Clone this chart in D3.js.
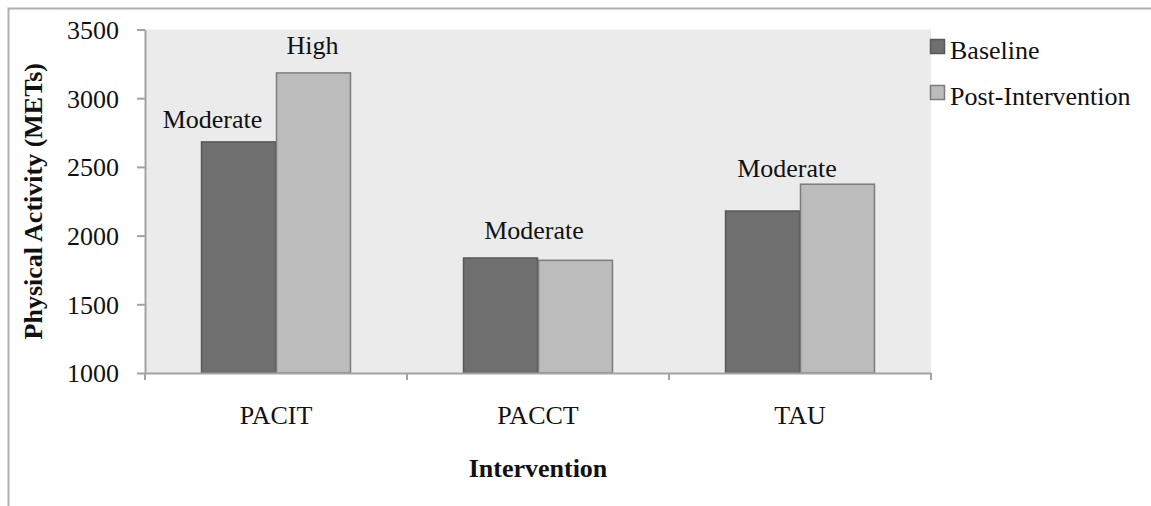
<!DOCTYPE html>
<html>
<head>
<meta charset="utf-8">
<script src="https://cdn.jsdelivr.net/npm/d3@7"></script>
<style>
  html, body { margin: 0; padding: 0; background: #fff; }
  svg { display: block; }
  text { font-family: "Liberation Serif", "Times New Roman", serif; fill: #111; }
</style>
</head>
<body>
<svg id="chart" width="1151" height="506"></svg>
<script>
// ---- data ----
const categories = ["PACIT", "PACCT", "TAU"];
const seriesNames = ["Baseline", "Post-Intervention"];
const baselineValues = [2682, 1837, 2179];
const postValues = [3184, 1820, 2374];
const yTickValues = [1000, 1500, 2000, 2500, 3000, 3500];
const annotationLabels = ["Moderate", "High", "Moderate", "Moderate"];
const annotationCategories = ["PACIT", "PACIT", "PACCT", "TAU"];
const annotationSeries = ["Baseline", "Post-Intervention", null, null];
const xTitle = "Intervention";
const yTitle = "Physical Activity (METs)";

// ---- layout / style ----
const plot = { left: 145, right: 931, top: 29.5, bottom: 373 };
const annotationOffsets = [[-26, -14], [-1, -19], [-4, -19], [-13, -7]];
const colors = { "Baseline": "#6f6f6f", "Post-Intervention": "#bcbcbc" };
const strokes = { "Baseline": "#595959", "Post-Intervention": "#7c7c7c" };
const axisColor = "#a3a3a3";
const fontSize = 26;

const svg = d3.select("#chart");

// outer border
svg.append("rect")
  .attr("x", 8.5).attr("y", 8.5)
  .attr("width", 1200).attr("height", 600)
  .attr("fill", "none").attr("stroke", "#b0b0b0").attr("stroke-width", 2);

// scales
const x0 = d3.scaleBand().domain(categories).range([plot.left, plot.right]).padding(0);
const x1 = d3.scaleBand().domain(seriesNames).range([0, x0.bandwidth()])
  .paddingInner(0).paddingOuter(0.747);
const y = d3.scaleLinear().domain([1000, 3500]).range([plot.bottom, plot.top]);

const valuesBySeries = { "Baseline": baselineValues, "Post-Intervention": postValues };
const rows = [];
categories.forEach((c, i) => seriesNames.forEach(s => rows.push({ cat: c, series: s, value: valuesBySeries[s][i] })));

// plot background
svg.append("rect")
  .attr("x", plot.left).attr("y", plot.top)
  .attr("width", plot.right - plot.left).attr("height", plot.bottom - plot.top)
  .attr("fill", "#ebebeb");

// bars
svg.append("g").selectAll("rect").data(rows).join("rect")
  .attr("x", d => x0(d.cat) + x1(d.series) + 0.5)
  .attr("y", d => y(d.value))
  .attr("width", x1.bandwidth() - 1)
  .attr("height", d => y(1000) - y(d.value))
  .attr("fill", d => colors[d.series])
  .attr("stroke", d => strokes[d.series])
  .attr("stroke-width", 1.5);

// y axis
const yAxis = svg.append("g")
  .attr("transform", `translate(${plot.left},0)`)
  .call(d3.axisLeft(y).tickValues(yTickValues).tickFormat(d3.format("d"))
    .tickSize(8).tickSizeOuter(0).tickPadding(18));
yAxis.select(".domain").attr("stroke", axisColor).attr("stroke-width", 2);
yAxis.selectAll(".tick line").attr("stroke", axisColor).attr("stroke-width", 2);
yAxis.selectAll(".tick text")
  .attr("font-size", fontSize).attr("font-family", "Liberation Serif").attr("fill", "#111")
  .attr("dy", "0.34em");

// x axis
const xAxis = svg.append("g")
  .attr("transform", `translate(0,${plot.bottom})`)
  .call(d3.axisBottom(x0).tickSize(0).tickSizeOuter(0).tickPadding(33));
xAxis.select(".domain").attr("stroke", axisColor).attr("stroke-width", 2);
xAxis.selectAll(".tick text")
  .attr("font-size", fontSize).attr("font-family", "Liberation Serif").attr("fill", "#111");
// boundary tick marks
const boundaries = categories.map(c => x0(c)).concat([x0.range()[1]]);
xAxis.selectAll("line.bound").data(boundaries).join("line")
  .attr("class", "bound")
  .attr("x1", d => d).attr("x2", d => d)
  .attr("y1", 0).attr("y2", 7)
  .attr("stroke", axisColor).attr("stroke-width", 2);

// annotations
svg.append("g").selectAll("text").data(annotationLabels).join("text")
  .attr("x", (d, i) => {
    const c = annotationCategories[i], s = annotationSeries[i];
    const cx = s ? x0(c) + x1(s) + x1.bandwidth() / 2 : x0(c) + x0.bandwidth() / 2;
    return cx + annotationOffsets[i][0];
  })
  .attr("y", (d, i) => {
    const c = annotationCategories[i], s = annotationSeries[i];
    const ci = categories.indexOf(c);
    const v = s ? valuesBySeries[s][ci] : Math.max(baselineValues[ci], postValues[ci]);
    return y(v) + annotationOffsets[i][1];
  })
  .attr("text-anchor", "middle")
  .attr("font-size", fontSize)
  .text(d => d);

// axis titles
svg.append("text")
  .attr("x", (plot.left + plot.right) / 2).attr("y", 477)
  .attr("text-anchor", "middle").attr("font-size", fontSize).attr("font-weight", "bold")
  .text(xTitle);
svg.append("text")
  .attr("transform", `translate(42,${(plot.top + plot.bottom) / 2}) rotate(-90)`)
  .attr("text-anchor", "middle").attr("font-size", fontSize).attr("font-weight", "bold")
  .text(yTitle);

// legend
const legend = svg.append("g").selectAll("g").data(seriesNames).join("g")
  .attr("transform", (d, i) => `translate(930,${39 + i * 46})`);
legend.append("rect")
  .attr("x", 0.5).attr("y", 0.5).attr("width", 14).attr("height", 14)
  .attr("fill", d => colors[d]).attr("stroke", d => strokes[d]).attr("stroke-width", 1.5);
legend.append("text")
  .attr("x", 20).attr("y", 20)
  .attr("font-size", fontSize)
  .text(d => d);
</script>
</body>
</html>
